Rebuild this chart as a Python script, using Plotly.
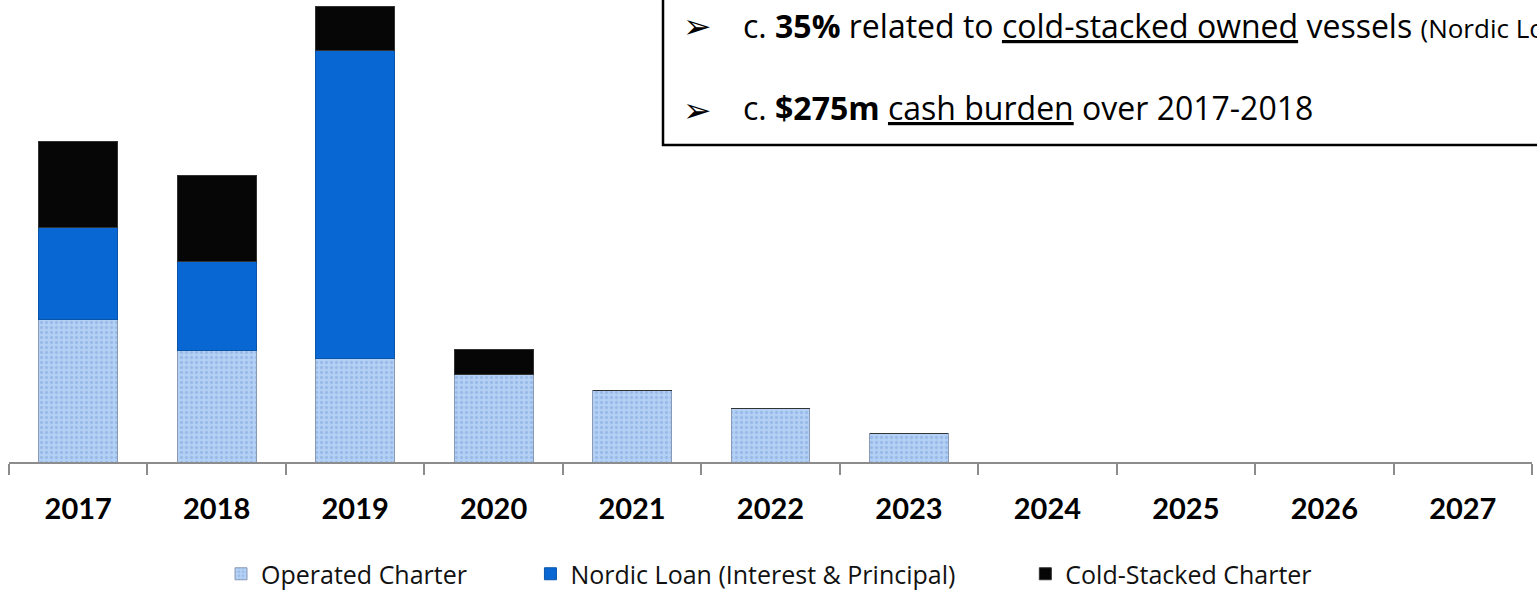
import plotly.graph_objects as go

years = ["2017", "2018", "2019", "2020", "2021", "2022", "2023", "2024", "2025", "2026", "2027"]
operated_charter = [111, 87, 81, 68, 56, 42, 22, 0, 0, 0, 0]
nordic_loan = [72, 69, 240, 0, 0, 0, 0, 0, 0, 0, 0]
cold_stacked = [67, 67, 34, 20, 0, 0, 0, 0, 0, 0, 0]

W, H = 1537, 590
ML, MR, MT = 9, 5, 0
PW = W - ML - MR
PH = 462
MB = H - MT - PH


def px(page_x):
    return (page_x - ML) / PW


def py(page_y):
    return (MT + PH - page_y) / PH


PAD1 = "\u00a0" * 9
PAD2 = "\u00a0" * 10

fig = go.Figure()
fig.add_trace(go.Bar(
    x=years, y=operated_charter, name="Operated Charter" + PAD1,
    cliponaxis=False,
    marker=dict(color="#aac9f1",
                line=dict(color="#8a9ab5", width=1),
                pattern=dict(shape=".", fgcolor="#7fa6dc", bgcolor="#b4d1f5", size=5, solidity=0.35)),
))
fig.add_trace(go.Bar(
    x=years, y=nordic_loan, name="Nordic Loan (Interest & Principal)" + PAD2,
    cliponaxis=False,
    marker=dict(color="#0867d2", line=dict(color="#0a55a8", width=1)),
))
fig.add_trace(go.Bar(
    x=years, y=cold_stacked, name="Cold-Stacked Charter",
    cliponaxis=False,
    marker=dict(color="#060606", line=dict(color="#333333", width=1)),
))

fig.update_layout(
    barmode="stack",
    bargap=0.43,
    width=W, height=H,
    margin=dict(l=ML, r=MR, t=MT, b=MB, autoexpand=False),
    paper_bgcolor="white", plot_bgcolor="white",
    showlegend=True,
    legend=dict(orientation="h", x=px(221), xanchor="left", y=py(574), yanchor="middle",
                font=dict(family="Open Sans", size=25, color="#111111"),
                traceorder="normal", itemclick=False),
    xaxis=dict(
        type="category", showgrid=False, showline=True, linecolor="#8c8c8c", linewidth=1.5,
        ticks="outside", tickson="boundaries", ticklen=11, tickcolor="#8c8c8c", tickwidth=1.5,
        tickfont=dict(family="Lato", size=29, color="black", weight="bold"),
        ticklabelstandoff=20,
        range=[-0.5, 10.5],
    ),
    yaxis=dict(visible=False, range=[0, 360], showgrid=False, zeroline=False),
)

# annotation box (top right, extends beyond the page)
fig.add_shape(type="rect", xref="paper", yref="paper",
              x0=px(663), x1=px(1600), y0=py(145), y1=py(-40),
              line=dict(color="black", width=2.5), fillcolor="white", layer="above")

arrow_font = dict(family="DejaVu Sans", size=34, color="black")
text_font = dict(family="Open Sans", size=32, color="black")
for yc in (26, 110):
    fig.add_annotation(xref="paper", yref="paper", x=px(681), y=py(yc), text="➢",
                       showarrow=False, xanchor="left", yanchor="middle", font=arrow_font)

fig.add_annotation(xref="paper", yref="paper", x=px(741), y=py(25),
                   text="c. <b>35%</b> related to <u>cold-stacked owned</u> vessels "
                        "<span style='font-size:26px'>(Nordic Loan)</span>",
                   showarrow=False, xanchor="left", yanchor="middle", font=text_font)
fig.add_annotation(xref="paper", yref="paper", x=px(741), y=py(108),
                   text="c. <b>$275m</b> <u>cash burden</u> over 2017-2018",
                   showarrow=False, xanchor="left", yanchor="middle", font=text_font)

# remove the browser's default 8px body margin so the figure fills the window
fig.write_html("out.html", config={"displayModeBar": False},
               post_script="document.body.style.margin='0px';")
